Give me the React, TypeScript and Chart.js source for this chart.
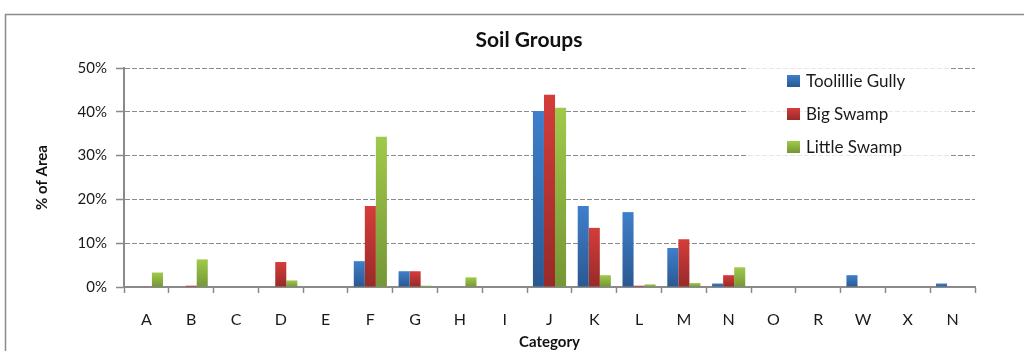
import React, { useEffect, useRef } from "react";
import { Chart, registerables } from "chart.js";

Chart.register(...registerables);

const categories = ["A", "B", "C", "D", "E", "F", "G", "H", "I", "J", "K", "L", "M", "N", "O", "R", "W", "X", "N"];
const toolillieGully = [0, 0, 0, 0, 0, 5.9, 3.6, 0, 0, 40.2, 18.5, 17.1, 8.9, 0.8, 0, 0, 2.7, 0, 0.8];
const bigSwamp = [0, 0.3, 0, 5.7, 0, 18.5, 3.6, 0, 0, 43.9, 13.5, 0.3, 10.9, 2.7, 0, 0, 0, 0, 0];
const littleSwamp = [3.3, 6.3, 0, 1.5, 0, 34.3, 0.3, 2.2, 0, 40.9, 2.7, 0.6, 0.9, 4.5, 0, 0, 0, 0, 0];
const seriesNames = ["Toolillie Gully", "Big Swamp", "Little Swamp"];
const yTicks = [0, 10, 20, 30, 40, 50];
const chartTitle = "Soil Groups";

const palette = [
  ["#3f7fcc", "#2a5890"],
  ["#d43d3a", "#982a28"],
  ["#9fca4a", "#759636"],
];

const FONT = "Lato, 'Open Sans', sans-serif";

function gradientFor(idx: number) {
  return (ctx: any) => {
    const chart = ctx.chart;
    const y = chart.scales?.y;
    if (!y || ctx.parsed == null) return palette[idx][0];
    const top = y.getPixelForValue(ctx.parsed.y);
    const base = y.getPixelForValue(0);
    if (!isFinite(top) || !isFinite(base) || Math.abs(base - top) < 1) return palette[idx][1];
    const g = chart.ctx.createLinearGradient(0, top, 0, base);
    g.addColorStop(0, palette[idx][0]);
    g.addColorStop(1, palette[idx][1]);
    return g;
  };
}

const framePlugin = {
  id: "frame",
  beforeDraw(chart: any) {
    const c = chart.ctx;
    c.save();
    c.fillStyle = "#ffffff";
    c.fillRect(0, 0, chart.width, chart.height);
    c.strokeStyle = "#8c8c8c";
    c.lineWidth = 1.5;
    c.strokeRect(5.5, 14.5, chart.width + 20, chart.height + 20);
    c.fillStyle = "#111";
    c.font = `bold 21px ${FONT}`;
    c.textAlign = "center";
    c.textBaseline = "alphabetic";
    c.fillText(chartTitle, 529, 47);
    c.restore();
  },
};

const legendPlugin = {
  id: "insideLegend",
  afterDatasetsDraw(chart: any) {
    const c = chart.ctx;
    c.save();
    c.fillStyle = "rgba(255,255,255,0.8)";
    c.fillRect(748, 66, 202, 96);
    const x0 = 787;
    const ys = [81, 114, 147];
    chart.data.datasets.forEach((ds: any, i: number) => {
      const y = ys[i];
      const g = c.createLinearGradient(0, y - 6, 0, y + 6);
      g.addColorStop(0, palette[i][0]);
      g.addColorStop(1, palette[i][1]);
      c.fillStyle = g;
      c.fillRect(x0, y - 6, 13, 12);
      c.fillStyle = "#1a1a1a";
      c.font = `17px ${FONT}`;
      c.textBaseline = "middle";
      c.textAlign = "left";
      c.fillText(ds.label, x0 + 19, y + 1);
    });
    c.restore();
  },
};

export default function App() {
  const ref = useRef<HTMLCanvasElement>(null);
  useEffect(() => {
    document.body.style.margin = "0";
    const canvas = ref.current!;
    const chart = new Chart(canvas, {
      type: "bar",
      data: {
        labels: categories,
        datasets: [toolillieGully, bigSwamp, littleSwamp].map((d, i) => ({
          label: seriesNames[i],
          data: d,
          backgroundColor: gradientFor(i),
          borderWidth: 0,
          categoryPercentage: 0.74,
          barPercentage: 1,
        })),
      },
      options: {
        responsive: false,
        devicePixelRatio: 1,
        animation: false,
        layout: { padding: { left: 0, right: 49, top: 68, bottom: 0 } },
        plugins: {
          legend: { display: false },
          tooltip: { enabled: false },
          title: { display: false },
        },
        scales: {
          x: {
            grid: {
              display: true,
              drawOnChartArea: false,
              drawTicks: true,
              tickLength: 6,
              tickColor: "#8a8a8a",
              tickWidth: 1.5,
              offset: true,
            },
            border: { display: true, color: "#8a8a8a", width: 2 },
            ticks: {
              color: "#1a1a1a",
              font: { family: FONT, size: 16 },
              padding: 17,
              maxRotation: 0,
              autoSkip: false,
            },
            title: {
              display: true,
              text: "Category",
              color: "#111",
              font: { family: FONT, size: 15, weight: "bold" },
              padding: { top: 0, bottom: 0 },
            },
            afterFit(scale: any) {
              scale.height = 64;
            },
          },
          y: {
            min: 0,
            max: 50,
            afterBuildTicks(scale: any) {
              scale.ticks = yTicks.map((v) => ({ value: v }));
            },
            grid: {
              color: "#8a8a8a",
              lineWidth: 1,
              tickLength: 8,
              tickColor: "#8a8a8a",
              tickWidth: 1.5,
              tickBorderDash: [],
            },
            border: { display: true, color: "#8a8a8a", width: 2, dash: [5, 2] },
            ticks: {
              color: "#1a1a1a",
              font: { family: FONT, size: 15 },
              padding: 9,
              callback: (v: any) => `${v}%`,
            },
            title: {
              display: true,
              text: "% of Area",
              color: "#111",
              font: { family: FONT, size: 15, weight: "bold" },
              padding: { top: 33, bottom: 0 },
            },
            afterFit(scale: any) {
              scale.width = 124;
            },
          },
        },
      },
      plugins: [framePlugin, legendPlugin],
    } as any);
    return () => chart.destroy();
  }, []);
  return <canvas ref={ref} width={1024} height={351} style={{ display: "block" }} />;
}
